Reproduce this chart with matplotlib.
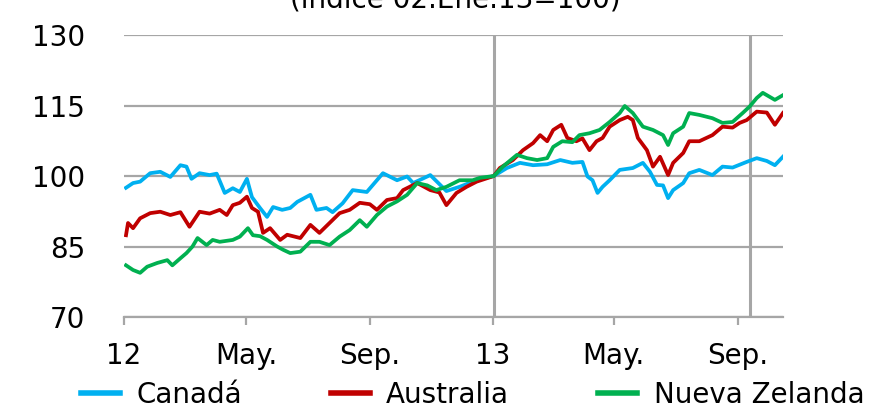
"""Tipos de cambio frente al dólar: Canadá, Australia y Nueva Zelanda."""

import matplotlib
matplotlib.use('Agg')
import matplotlib.pyplot as plt
import pandas as pd

title = '(índice 02.Ene.13=100)'
labels = ['Canadá', 'Australia', 'Nueva Zelanda']
colors = ['#00B0F0', '#C00000', '#00B050']

# Canadá
can_dates = [
    '2012-01-03', '2012-01-10', '2012-01-17', '2012-01-27', '2012-02-06', '2012-02-16',
    '2012-02-26', '2012-03-03', '2012-03-08', '2012-03-16', '2012-03-26', '2012-04-02',
    '2012-04-10', '2012-04-18', '2012-04-25', '2012-05-02', '2012-05-07', '2012-05-15',
    '2012-05-22', '2012-05-28', '2012-06-06', '2012-06-14', '2012-06-21', '2012-07-04',
    '2012-07-10', '2012-07-20', '2012-07-26', '2012-08-05', '2012-08-15', '2012-08-29',
    '2012-09-08', '2012-09-14', '2012-09-28', '2012-10-08', '2012-10-14', '2012-10-31',
    '2012-11-16', '2012-11-29', '2012-12-16', '2013-01-02', '2013-01-15', '2013-01-28',
    '2013-02-10', '2013-02-24', '2013-03-09', '2013-03-21', '2013-03-31', '2013-04-05',
    '2013-04-10', '2013-04-15', '2013-04-20', '2013-04-27', '2013-05-07', '2013-05-20',
    '2013-05-30', '2013-06-06', '2013-06-13', '2013-06-19', '2013-06-24', '2013-06-29',
    '2013-07-09', '2013-07-15', '2013-07-25', '2013-08-07', '2013-08-17', '2013-08-27',
    '2013-09-10', '2013-09-20', '2013-09-30', '2013-10-08', '2013-10-16',
]
can_vals = [
    97.5, 98.5, 98.8, 100.6, 100.9, 99.8,
    102.3, 102.0, 99.4, 100.6, 100.2, 100.5,
    96.4, 97.4, 96.6, 99.4, 95.5, 93.2,
    91.3, 93.4, 92.8, 93.2, 94.5, 96.0,
    92.8, 93.2, 92.3, 94.2, 97.0, 96.6,
    99.1, 100.6, 99.1, 99.9, 98.5, 100.2,
    96.8, 97.7, 99.1, 100.0, 101.7, 102.8,
    102.3, 102.5, 103.4, 102.8, 103.0, 99.9,
    99.1, 96.4, 97.7, 99.1, 101.3, 101.7,
    102.8, 100.9, 98.1, 98.0, 95.3, 97.0,
    98.5, 100.6, 101.3, 100.2, 102.0, 101.8,
    103.0, 103.8, 103.2, 102.3, 104.1,
]

# Australia
aus_dates = [
    '2012-01-03', '2012-01-05', '2012-01-10', '2012-01-17', '2012-01-27', '2012-02-06',
    '2012-02-16', '2012-02-26', '2012-03-06', '2012-03-16', '2012-03-26', '2012-04-05',
    '2012-04-12', '2012-04-18', '2012-04-25', '2012-05-02', '2012-05-07', '2012-05-13',
    '2012-05-18', '2012-05-25', '2012-06-04', '2012-06-11', '2012-06-24', '2012-07-04',
    '2012-07-13', '2012-07-23', '2012-08-02', '2012-08-12', '2012-08-22', '2012-09-01',
    '2012-09-08', '2012-09-18', '2012-09-28', '2012-10-04', '2012-10-18', '2012-10-31',
    '2012-11-09', '2012-11-16', '2012-11-26', '2012-12-06', '2012-12-16', '2013-01-02',
    '2013-01-08', '2013-01-21', '2013-01-31', '2013-02-10', '2013-02-17', '2013-02-24',
    '2013-03-02', '2013-03-10', '2013-03-16', '2013-03-25', '2013-03-31', '2013-04-07',
    '2013-04-14', '2013-04-20', '2013-04-27', '2013-05-07', '2013-05-15', '2013-05-20',
    '2013-05-25', '2013-06-03', '2013-06-09', '2013-06-16', '2013-06-24', '2013-06-29',
    '2013-07-09', '2013-07-15', '2013-07-25', '2013-08-07', '2013-08-17', '2013-08-27',
    '2013-09-03', '2013-09-10', '2013-09-20', '2013-09-30', '2013-10-08', '2013-10-16',
]
aus_vals = [
    87.4, 90.0, 88.9, 91.0, 92.1, 92.4,
    91.7, 92.3, 89.2, 92.4, 92.0, 92.8,
    91.7, 93.8, 94.3, 95.6, 93.2, 92.4,
    87.9, 88.9, 86.4, 87.5, 86.8, 89.6,
    87.9, 90.0, 92.1, 92.8, 94.3, 94.0,
    92.8, 94.9, 95.3, 97.0, 98.5, 97.0,
    96.5, 93.8, 96.4, 97.7, 98.8, 100.0,
    101.7, 103.4, 105.5, 107.0, 108.7, 107.4,
    109.8, 110.9, 108.1, 107.4, 108.0, 105.5,
    107.4, 108.1, 110.5, 111.9, 112.6, 111.9,
    108.1, 105.5, 102.0, 104.1, 100.2, 102.8,
    104.9, 107.4, 107.4, 108.7, 110.5, 110.3,
    111.3, 111.9, 113.7, 113.5, 110.9, 113.4,
]

# Nueva Zelanda
nz_dates = [
    '2012-01-03', '2012-01-10', '2012-01-17', '2012-01-24', '2012-02-03', '2012-02-13',
    '2012-02-18', '2012-02-26', '2012-03-03', '2012-03-09', '2012-03-14', '2012-03-23',
    '2012-03-29', '2012-04-05', '2012-04-18', '2012-04-25', '2012-05-03', '2012-05-08',
    '2012-05-15', '2012-05-22', '2012-06-01', '2012-06-07', '2012-06-14', '2012-06-24',
    '2012-07-04', '2012-07-13', '2012-07-23', '2012-08-02', '2012-08-12', '2012-08-22',
    '2012-08-29', '2012-09-08', '2012-09-18', '2012-09-28', '2012-10-08', '2012-10-18',
    '2012-10-28', '2012-11-06', '2012-11-16', '2012-11-29', '2012-12-12', '2012-12-19',
    '2013-01-02', '2013-01-11', '2013-01-25', '2013-02-04', '2013-02-14', '2013-02-24',
    '2013-03-02', '2013-03-11', '2013-03-21', '2013-03-28', '2013-04-07', '2013-04-17',
    '2013-04-27', '2013-05-07', '2013-05-12', '2013-05-20', '2013-05-30', '2013-06-09',
    '2013-06-19', '2013-06-24', '2013-06-29', '2013-07-09', '2013-07-15', '2013-07-25',
    '2013-08-07', '2013-08-17', '2013-08-27', '2013-09-06', '2013-09-13', '2013-09-20',
    '2013-09-26', '2013-10-08', '2013-10-16',
]
nz_vals = [
    81.0, 80.0, 79.4, 80.7, 81.5, 82.1,
    81.0, 82.5, 83.6, 85.0, 86.8, 85.3,
    86.4, 86.0, 86.4, 87.1, 88.9, 87.4,
    87.2, 86.4, 85.0, 84.3, 83.6, 83.9,
    86.0, 86.0, 85.3, 87.1, 88.5, 90.6,
    89.2, 91.7, 93.5, 94.6, 96.0, 98.5,
    98.0, 97.0, 97.7, 99.1, 99.1, 99.6,
    100.0, 102.0, 104.5, 103.8, 103.4, 103.8,
    106.2, 107.4, 107.2, 108.7, 109.1, 109.8,
    111.5, 113.4, 114.9, 113.4, 110.5, 109.8,
    108.7, 106.6, 109.1, 110.5, 113.4, 113.0,
    112.3, 111.3, 111.5, 113.4, 114.8, 116.6,
    117.7, 116.2, 117.2,
]

# fechas marcadas con línea vertical
event_dates = ['2013-01-02', '2013-09-13']

yticks = [70, 85, 100, 115, 130]
xticks = ['2012-01-01', '2012-05-01', '2012-09-01', '2013-01-01', '2013-05-01', '2013-09-01']
xticklabels = ['12', 'May.', 'Sep.', '13', 'May.', 'Sep.']

grey = '#A6A6A6'
plt.rcParams['font.family'] = ['DejaVu Sans']
plt.rcParams['font.size'] = 20

fig = plt.figure(figsize=(8.75, 4.11), dpi=100)
ax = fig.add_axes([0.1417, 0.2287, 0.7531, 0.6861])

series = [(can_dates, can_vals), (aus_dates, aus_vals), (nz_dates, nz_vals)]
for (d, v), lab, col in zip(series, labels, colors):
    ax.plot(pd.to_datetime(d), v, color=col, lw=2.7, label=lab, zorder=3)

for ev in event_dates:
    ax.axvline(pd.Timestamp(ev), color=grey, lw=2.2, zorder=1)

ax.set_ylim(70, 130)
ax.set_yticks(yticks)
ax.set_xlim(pd.Timestamp('2012-01-01'), pd.Timestamp('2013-10-16'))
ax.set_xticks(pd.to_datetime(xticks))
ax.set_xticklabels(xticklabels)
ax.grid(axis='y', color=grey, lw=1.6, zorder=0)
ax.set_axisbelow(True)

for s in ['top', 'right', 'left']:
    ax.spines[s].set_visible(False)
ax.spines['bottom'].set_color(grey)
ax.spines['bottom'].set_linewidth(1.6)
ax.tick_params(axis='y', length=0, pad=28)
ax.tick_params(axis='x', length=6, width=1.6, color=grey, pad=12)

fig.text(0.52, 0.982, title, ha='center', va='baseline', fontsize=20)

leg = fig.legend(loc='lower center', bbox_to_anchor=(0.54, -0.055), ncol=3, frameon=False,
                 handlelength=1.4, handletextpad=0.6, columnspacing=3.2, fontsize=20)
for line in leg.get_lines():
    line.set_linewidth(4)

fig.savefig('out.png', dpi=100)
